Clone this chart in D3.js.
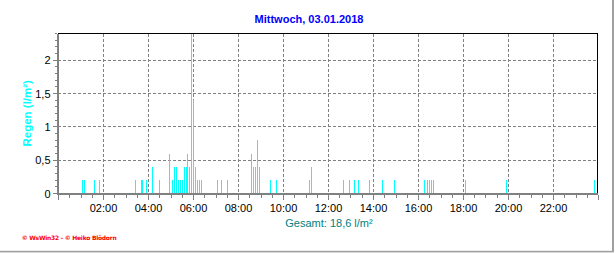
<!DOCTYPE html>
<html><head><meta charset="utf-8">
<script src="https://cdn.jsdelivr.net/npm/d3@7"></script>
<style>body{margin:0;background:#fff}svg{display:block}text{font-family:"Liberation Sans",Arial,sans-serif}</style>
</head><body><svg id="c" width="616" height="253"></svg>
<script>
const title = "Mittwoch, 03.01.2018";
const yLabel = "Regen  (l/m²)";
const totalLabel = "Gesamt: 18,6 l/m²";
const footer = "© WsWin32 - © Heiko Blödorn";

const times = ["01:05","01:10","01:35","01:50","03:25","03:40","03:45","03:55","04:10","04:30","04:55",
  "05:05","05:10","05:15","05:20","05:25","05:30","05:35","05:40","05:45","05:50","05:55","06:00",
  "06:05","06:10","06:15","06:20","07:05","07:15","07:30","08:35","08:40","08:45","08:50","08:55",
  "09:25","09:40","11:10","11:15","12:40","12:55","13:10","13:20","13:50","14:25","14:55",
  "16:15","16:25","16:30","16:35","16:40","18:05","19:55","23:50"];
const values = [0.2,0.2,0.2,0.2,0.2,0.2,0.2,0.2,0.4,0.2,0.6,
  0.2,0.4,0.4,0.2,0.2,0.2,0.4,0.4,0.6,0.4,2.8,1.4,
  0.4,0.2,0.2,0.2,0.2,0.2,0.2,0.6,0.4,0.4,0.8,0.4,
  0.2,0.2,0.2,0.4,0.2,0.2,0.2,0.2,0.2,0.2,0.2,
  0.2,0.2,0.2,0.2,0.2,0.2,0.2,0.2];

const xTickHours = [2,4,6,8,10,12,14,16,18,20,22];
const xTickLabels = ["02:00","04:00","06:00","08:00","10:00","12:00","14:00","16:00","18:00","20:00","22:00"];
const yTickValues = [0,0.5,1,1.5,2];
const yTickLabels = ["0","0,5","1","1,5","2"];

const svg = d3.select("#c");
const L = 58, R = 598, T = 33.5, B = 193.5;
const x = d3.scaleLinear().domain([0,24]).range([L,R]);
const y = d3.scaleLinear().domain([0,2.4]).range([B,T]);
const parse = s => { const [h,m] = s.split(":").map(Number); return h + m/60; };
const data = times.map((t,i) => ({h: parse(t), v: values[i]}));

// outer frame (right / bottom)
svg.append("rect").attr("x",612).attr("y",0).attr("width",2).attr("height",252).attr("fill","#a0a0a0");
svg.append("rect").attr("x",0).attr("y",250.8).attr("width",614).attr("height",1.6).attr("fill","#a0a0a0");

// title
svg.append("text").attr("x",309).attr("y",23).attr("text-anchor","middle")
  .attr("font-size",11).attr("font-weight","bold").attr("fill","#0000ff").text(title);

const g = svg.append("g").attr("shape-rendering","crispEdges");

// grid
g.selectAll(".vg").data(xTickHours).join("line")
  .attr("x1",d=>Math.round(x(d))+0.5).attr("x2",d=>Math.round(x(d))+0.5)
  .attr("y1",T).attr("y2",B).attr("stroke","#808080").attr("stroke-dasharray","3,2");
g.selectAll(".hg").data(yTickValues.filter(d=>d>0)).join("line")
  .attr("x1",L).attr("x2",R).attr("y1",d=>Math.floor(y(d))+0.5).attr("y2",d=>Math.floor(y(d))+0.5)
  .attr("stroke","#808080").attr("stroke-dasharray","3,2");

// bars
svg.append("clipPath").attr("id","clip").append("rect")
  .attr("x",L).attr("y",T).attr("width",R-L).attr("height",B-T);
g.append("g").attr("clip-path","url(#clip)").selectAll("rect").data(data).join("rect")
  .attr("x",d=>Math.round(x(d.h))).attr("width",1)
  .attr("y",d=>y(d.v)).attr("height",d=>y(0)-y(d.v)).attr("fill","#00ffff");

// borders
g.append("line").attr("x1",L).attr("x2",R).attr("y1",T).attr("y2",T).attr("stroke","#000");
g.append("line").attr("x1",R-0.5).attr("x2",R-0.5).attr("y1",T).attr("y2",B).attr("stroke","#000");

// axes lines
g.append("line").attr("x1",L).attr("x2",L).attr("y1",T).attr("y2",195).attr("stroke","#808080").attr("stroke-width",2);
g.append("line").attr("x1",L-1).attr("x2",R).attr("y1",194).attr("y2",194).attr("stroke","#808080").attr("stroke-width",2);

// x ticks
const xMinor = d3.range(0,24.01,0.5);
g.selectAll(".xt").data(xMinor).join("line")
  .attr("x1",d=>Math.round(x(d))+0.5).attr("x2",d=>Math.round(x(d))+0.5)
  .attr("y1",195).attr("y2",d=> (d%2===0) ? 200 : 197.5).attr("stroke","#808080");
// y ticks
const yMinor = d3.range(0,24.5,1).map(d=>d/10);
g.selectAll(".yt").data(yMinor).join("line")
  .attr("x1",d=> (Math.round(d*10)%5===0) ? 53 : 55).attr("x2",57)
  .attr("y1",d=>Math.floor(y(d))+0.5).attr("y2",d=>Math.floor(y(d))+0.5).attr("stroke","#808080");

// tick labels
svg.selectAll(".xl").data(xTickHours).join("text")
  .attr("x",d=>x(d)+0.5).attr("y",212).attr("text-anchor","middle").attr("font-size",11).attr("fill","#000")
  .text((d,i)=>xTickLabels[i]);
svg.selectAll(".yl").data(yTickValues).join("text")
  .attr("x",50.5).attr("y",d=>y(d)+4).attr("text-anchor","end").attr("font-size",11).attr("fill","#000")
  .text((d,i)=>yTickLabels[i]);

// y label
svg.append("text").attr("transform","translate(26.7,113.3) rotate(-90)").attr("dy","0.36em")
  .attr("text-anchor","middle").attr("font-size",11.5).attr("font-weight","bold").attr("fill","#00ffff").text(yLabel);

// total
svg.append("text").attr("x",(L+R)/2+1).attr("y",226.5).attr("text-anchor","middle")
  .attr("font-size",11).attr("fill","#008080").text(totalLabel);

// footer
svg.append("text").attr("x",21.7).attr("y",240.4).attr("font-size",6)
  .attr("font-weight","bold").attr("fill","#ff0000")
  .style("font-family","'DejaVu Sans',sans-serif")
  .attr("textLength",95).attr("lengthAdjust","spacing").text(footer);
</script></body></html>
